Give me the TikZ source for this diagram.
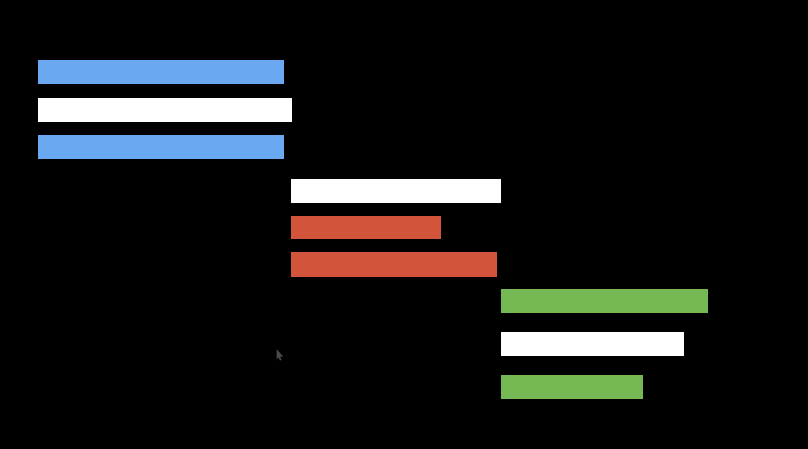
\documentclass[tikz,border=0pt]{standalone}
\definecolor{barblue}{HTML}{6AA9F1}
\definecolor{barred}{HTML}{D2543A}
\definecolor{bargreen}{HTML}{76B852}
\definecolor{cursorgray}{HTML}{4A4A4A}
\tikzset{
  bar/.style={draw=none, inner sep=0pt, outer sep=0pt, anchor=north west, minimum height=24pt},
}
\begin{document}
\begin{tikzpicture}[x=1pt,y=-1pt]
\useasboundingbox (0,0) rectangle (808,448);
\fill[black] (-2,-2) rectangle (810,450);
% group 1
\node[bar, fill=barblue, minimum width=246pt] (b1) at (37.5,60) {};
\node[bar, fill=white, minimum width=254pt] (w1) at (37.5,97.5) {};
\node[bar, fill=barblue, minimum width=246pt] (b2) at (37.5,135) {};
% group 2
\node[bar, fill=white, minimum width=210.5pt] (w2) at (290.5,178.5) {};
\node[bar, fill=barred, minimum width=150.5pt, minimum height=23.5pt] (r1) at (290.5,215.5) {};
\node[bar, fill=barred, minimum width=206pt, minimum height=24.5pt] (r2) at (290.5,252) {};
% group 3
\node[bar, fill=bargreen, minimum width=206.5pt, minimum height=23.5pt] (g1) at (501.3,289) {};
\node[bar, fill=white, minimum width=182.7pt] (w3) at (501.3,332) {};
\node[bar, fill=bargreen, minimum width=141.7pt] (g2) at (501.3,375) {};
% faint mouse cursor
\fill[cursorgray] (276.5,349) -- (276.5,359) -- (278.5,357.3) -- (280,360.5) -- (281.5,359.8) -- (280,356.7) -- (283,356.5) -- cycle;
\end{tikzpicture}
\end{document}
